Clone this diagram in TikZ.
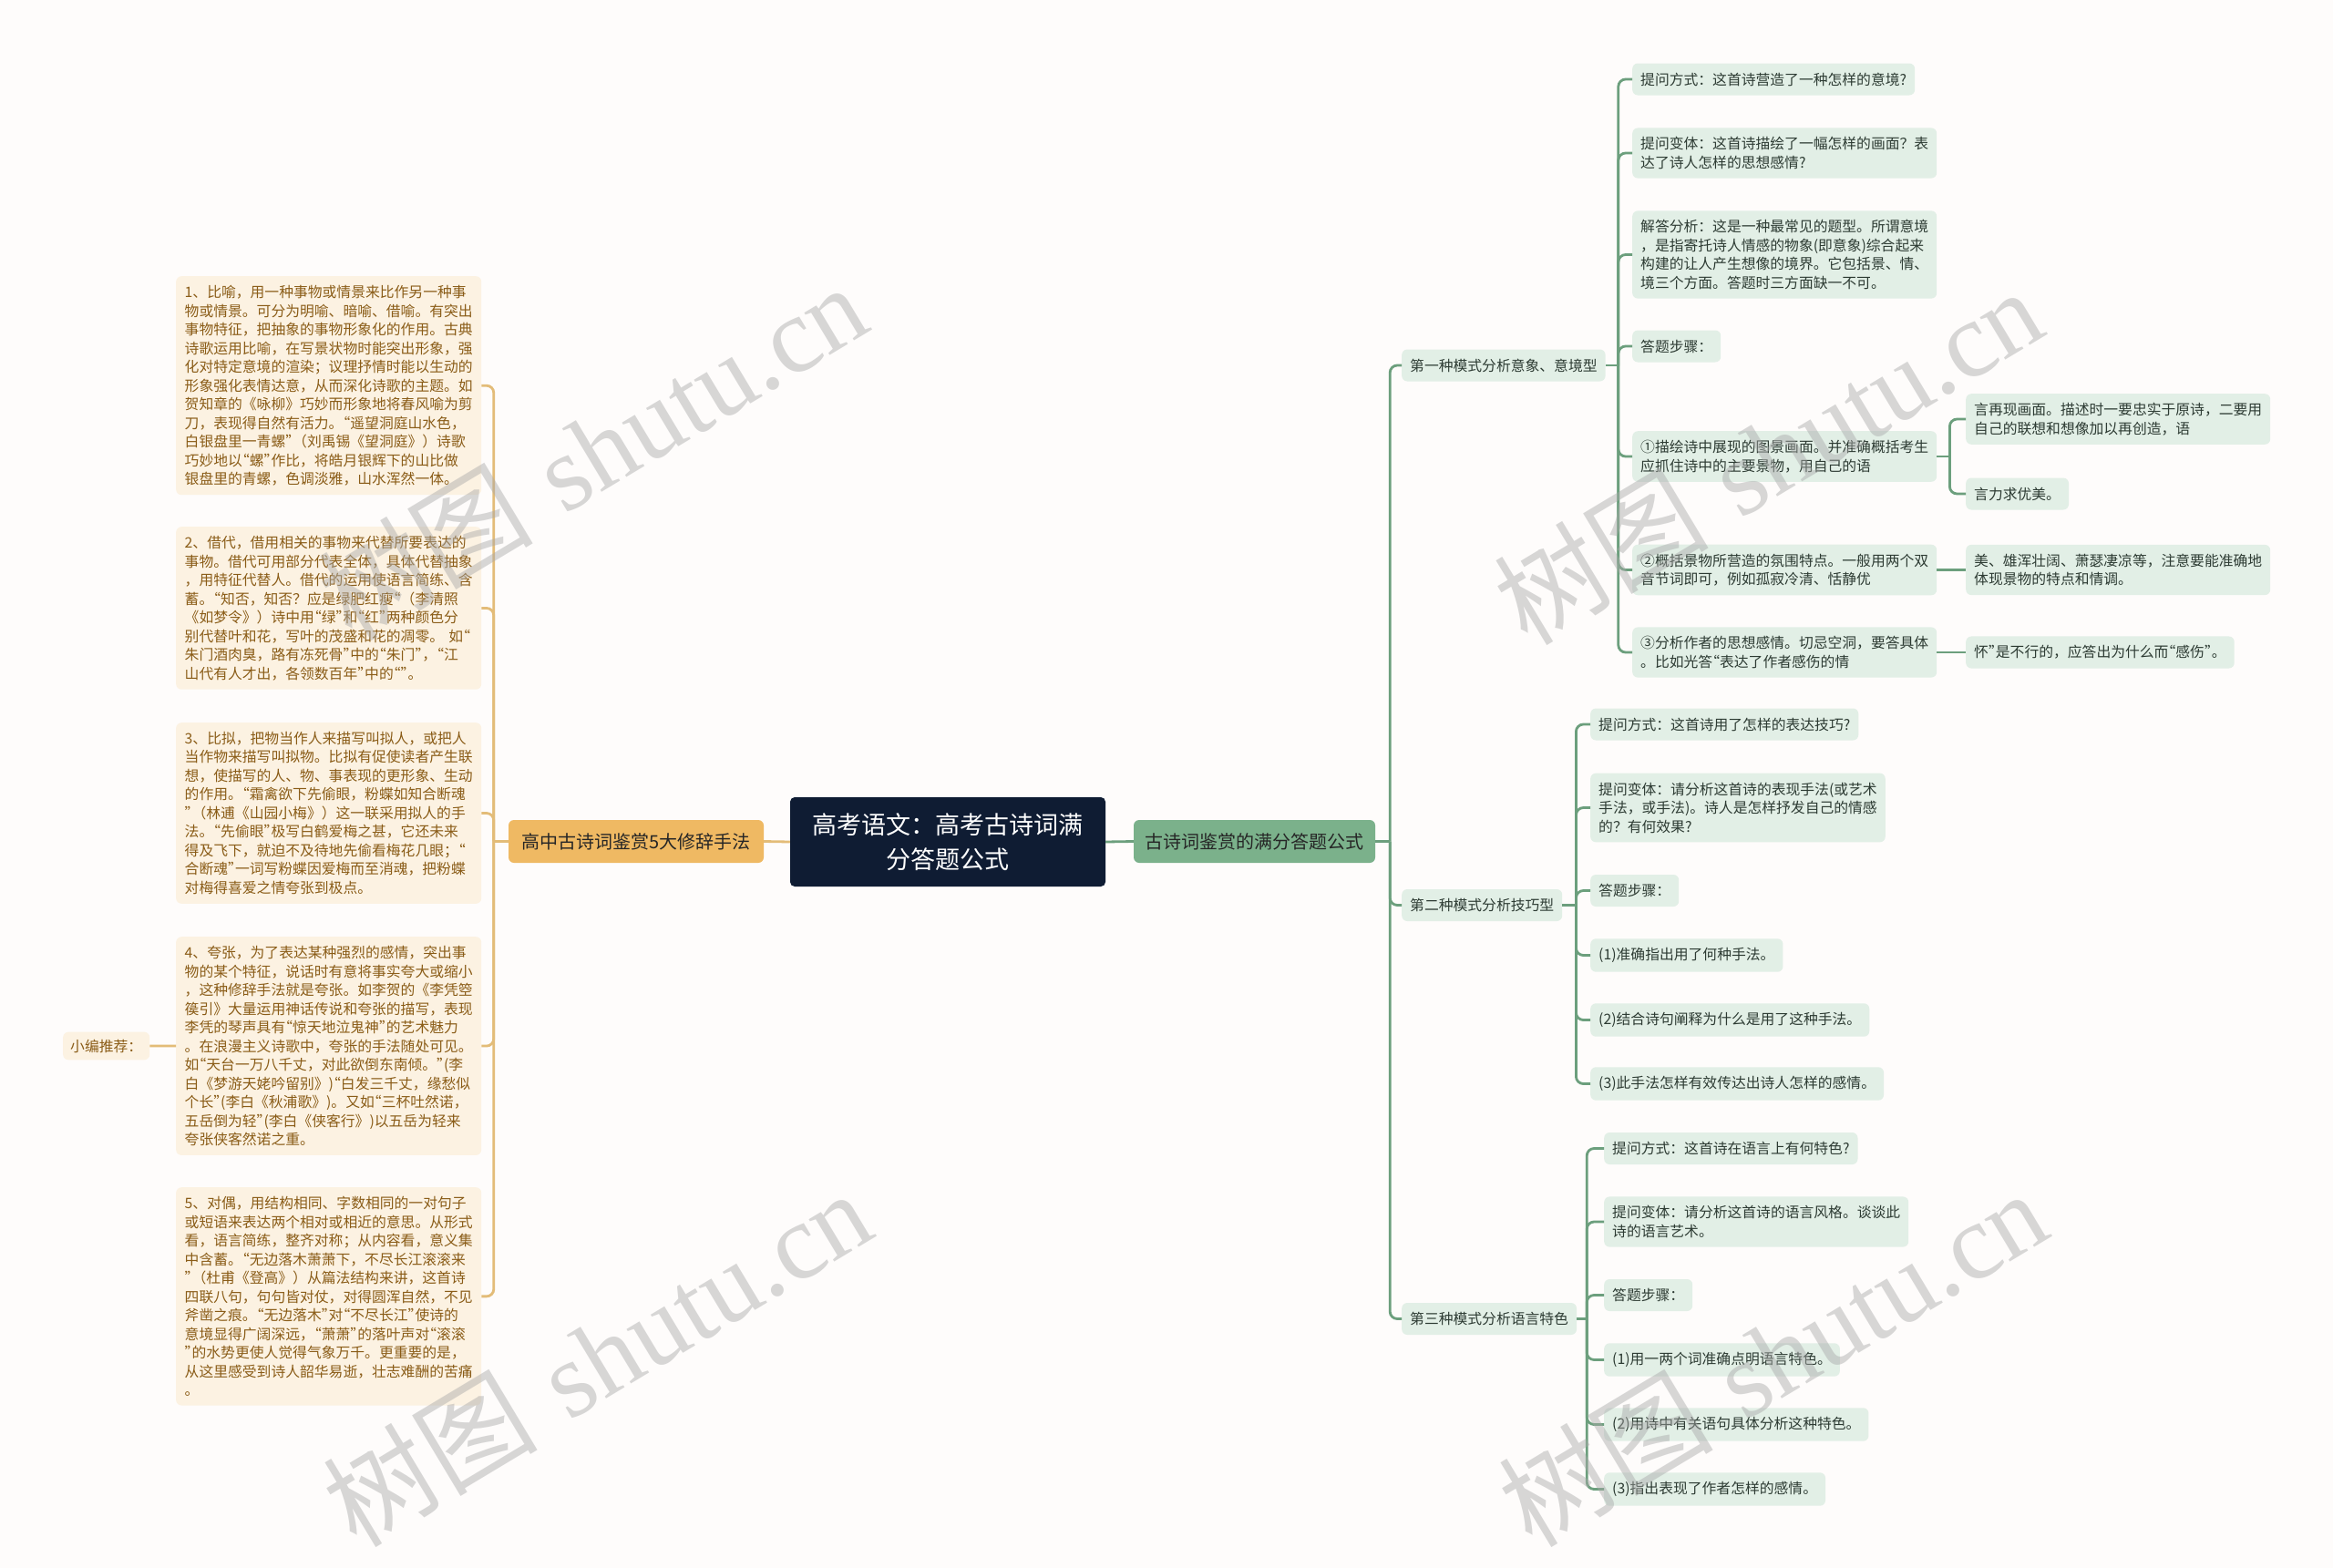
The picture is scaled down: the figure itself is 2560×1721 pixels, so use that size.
\documentclass[tikz,border=0pt]{standalone}
\usepackage{fontspec}
\newfontfamily\cjk{Noto Sans CJK SC}
\newfontfamily\wmfont{Liberation Serif}
%half-width curly quotes
\catcode`“=\active
\def“{\makebox[.5em][r]{\char"201C}}
\catcode`”=\active
\def”{\makebox[.5em][l]{\char"201D}}
\definecolor{bgcol}{HTML}{FEFCFB}
\definecolor{navy}{HTML}{0F1C33}
\definecolor{ofill}{HTML}{EFB963}
\definecolor{oline}{HTML}{E3BC78}
\definecolor{leaffill}{HTML}{FCF2E2}
\definecolor{leaftext}{HTML}{8A5C17}
\definecolor{gfill}{HTML}{7BB18B}
\definecolor{gline}{HTML}{6C9F7D}
\definecolor{gleaf}{HTML}{E2EFE6}
\definecolor{gtext}{HTML}{2D3B33}
\definecolor{wmgray}{HTML}{A8A8A8}
\tikzset{
  mid/.style={fill=navy,text=white,rounded corners=5pt,align=center,
    minimum width=346pt,minimum height=98pt,
    font=\fontsize{27}{37.5}\selectfont\cjk},
  obranch/.style={fill=ofill,text=black!85,rounded corners=6pt,
    minimum width=280pt,minimum height=47pt,font=\fontsize{20}{24}\selectfont\cjk},
  gbranch/.style={fill=gfill,text=black!85,rounded corners=6pt,
    minimum width=265pt,minimum height=47pt,font=\fontsize{20}{24}\selectfont\cjk},
  oleaf/.style={fill=leaffill,text=leaftext,rounded corners=6pt,align=left,
    text width=316pt,inner xsep=9.5pt,inner ysep=10pt,
    font=\fontsize{15.8}{20.5}\selectfont\cjk},
  gleaf/.style={fill=gleaf,text=gtext,rounded corners=6pt,align=left,
    inner xsep=9pt,inner ysep=10pt,minimum height=35pt,
    font=\fontsize{15.8}{20.5}\selectfont\cjk},
  olink/.style={draw=oline,line width=2.8pt,rounded corners=8pt},
  glink/.style={draw=gline,line width=2.8pt,rounded corners=8pt},
  wmark/.style={text=wmgray,opacity=0.45,rotate=31,font=\fontsize{118}{120}\selectfont}
}
\begin{document}
\begin{tikzpicture}[x=1pt,y=-1pt]
  \fill[bgcol] (0,0) rectangle (2560,1721);
  \useasboundingbox (0,0) rectangle (2560,1721);

  %centre
  \node[mid] (ctr) at (1040,924) {高考语文：高考古诗词满\\分答题公式};
  \node[obranch] (om) at (698,923.5) {高中古诗词鉴赏5大修辞手法};
  \node[gbranch] (gm) at (1376.5,923.5) {古诗词鉴赏的满分答题公式};
  \draw[olink] (ctr.west) -- (om.east);
  \draw[glink] (ctr.east) -- (gm.west);

  %left: five figures of speech
  \node[oleaf,anchor=north west] (b1) at (193,303) {1、比喻，用一种事物或情景来比作另一种事\\物或情景。可分为明喻、暗喻、借喻。有突出\\事物特征，把抽象的事物形象化的作用。古典\\诗歌运用比喻，在写景状物时能突出形象，强\\化对特定意境的渲染；议理抒情时能以生动的\\形象强化表情达意，从而深化诗歌的主题。如\\贺知章的《咏柳》巧妙而形象地将春风喻为剪\\刀，表现得自然有活力。“遥望洞庭山水色，\\白银盘里一青螺”（刘禹锡《望洞庭》）诗歌\\巧妙地以“螺”作比，将皓月银辉下的山比做\\银盘里的青螺，色调淡雅，山水浑然一体。};
  \node[oleaf,anchor=north west] (b2) at (193,578) {2、借代，借用相关的事物来代替所要表达的\\事物。借代可用部分代表全体，具体代替抽象\\，用特征代替人。借代的运用使语言简练、含\\蓄。“知否，知否？应是绿肥红瘦“（李清照\\《如梦令》）诗中用“绿”和“红”两种颜色分\\别代替叶和花，写叶的茂盛和花的凋零。~如“\\朱门酒肉臭，路有冻死骨”中的“朱门”，“江\\山代有人才出，各领数百年”中的“”。};
  \node[oleaf,anchor=north west] (b3) at (193,793) {3、比拟，把物当作人来描写叫拟人，或把人\\当作物来描写叫拟物。比拟有促使读者产生联\\想，使描写的人、物、事表现的更形象、生动\\的作用。“霜禽欲下先偷眼，粉蝶如知合断魂\\”（林逋《山园小梅》）这一联采用拟人的手\\法。“先偷眼”极写白鹤爱梅之甚，它还未来\\得及飞下，就迫不及待地先偷看梅花几眼；“\\合断魂”一词写粉蝶因爱梅而至消魂，把粉蝶\\对梅得喜爱之情夸张到极点。};
  \node[oleaf,anchor=north west] (b4) at (193,1028) {4、夸张，为了表达某种强烈的感情，突出事\\物的某个特征，说话时有意将事实夸大或缩小\\，这种修辞手法就是夸张。如李贺的《李凭箜\\篌引》大量运用神话传说和夸张的描写，表现\\李凭的琴声具有“惊天地泣鬼神”的艺术魅力\\。在浪漫主义诗歌中，夸张的手法随处可见。\\如“天台一万八千丈，对此欲倒东南倾。”(李\\白《梦游天姥吟留别》)“白发三千丈，缘愁似\\个长”(李白《秋浦歌》)。又如“三杯吐然诺，\\五岳倒为轻”(李白《侠客行》)以五岳为轻来\\夸张侠客然诺之重。};
  \node[oleaf,anchor=north west] (b5) at (193,1303) {5、对偶，用结构相同、字数相同的一对句子\\或短语来表达两个相对或相近的意思。从形式\\看，语言简练，整齐对称；从内容看，意义集\\中含蓄。“无边落木萧萧下，不尽长江滚滚来\\”（杜甫《登高》）从篇法结构来讲，这首诗\\四联八句，句句皆对仗，对得圆浑自然，不见\\斧凿之痕。“无边落木”对“不尽长江”使诗的\\意境显得广阔深远，“萧萧”的落叶声对“滚滚\\”的水势更使人觉得气象万千。更重要的是，\\从这里感受到诗人韶华易逝，壮志难酬的苦痛\\。};
  \node[oleaf,text width=,anchor=west,inner xsep=8pt,inner ysep=8pt] (tip) at (69,1148) {小编推荐：};
  \draw[olink] (om.west) -- ++(-16,0) coordinate (omj);
  \foreach \b in {b1,b2,b3,b4,b5}
    \draw[olink] (omj) |- (\b.east);
  \draw[olink] (tip.east) -- (b4.west);

  %right: three answer patterns
  \node[gleaf,anchor=west] (g1) at (1538,401) {第一种模式分析意象、意境型};
  \node[gleaf,anchor=west] (g2) at (1538,993.5) {第二种模式分析技巧型};
  \node[gleaf,anchor=west] (g3) at (1538,1447.5) {第三种模式分析语言特色};
  \draw[glink] (gm.east) -- ++(16,0) coordinate (gmj);
  \foreach \g in {g1,g2,g3}
    \draw[glink] (gmj) |- (\g.west);

  %pattern 1
  \node[gleaf,anchor=west] (q1) at (1791,87) {提问方式：这首诗营造了一种怎样的意境?};
  \node[gleaf,anchor=west] (v1) at (1791,168) {提问变体：这首诗描绘了一幅怎样的画面？表\\达了诗人怎样的思想感情?};
  \node[gleaf,anchor=west] (a1) at (1791,279.5) {解答分析：这是一种最常见的题型。所谓意境\\，是指寄托诗人情感的物象(即意象)综合起来\\构建的让人产生想像的境界。它包括景、情、\\境三个方面。答题时三方面缺一不可。};
  \node[gleaf,anchor=west] (s1) at (1791,380) {答题步骤：};
  \node[gleaf,anchor=west] (p1) at (1791,501) {①描绘诗中展现的图景画面。并准确概括考生\\应抓住诗中的主要景物，用自己的语};
  \node[gleaf,anchor=west] (p2) at (1791,625.5) {②概括景物所营造的氛围特点。一般用两个双\\音节词即可，例如孤寂冷清、恬静优};
  \node[gleaf,anchor=west] (p3) at (1791,716) {③分析作者的思想感情。切忌空洞，要答具体\\。比如光答“表达了作者感伤的情};
  \node[gleaf,anchor=west] (p1x) at (2157,460) {言再现画面。描述时一要忠实于原诗，二要用\\自己的联想和想像加以再创造，语};
  \node[gleaf,anchor=west] (p1y) at (2157,542) {言力求优美。};
  \node[gleaf,anchor=west] (p2x) at (2157,625.5) {美、雄浑壮阔、萧瑟凄凉等，注意要能准确地\\体现景物的特点和情调。};
  \node[gleaf,anchor=west] (p3x) at (2157,716) {怀”是不行的，应答出为什么而“感伤”。};
  \draw[glink] (g1.east) -- ++(14,0) coordinate (g1j);
  \foreach \c in {q1,v1,a1,s1,p1,p2,p3}
    \draw[glink] (g1j) |- (\c.west);
  \draw[glink] (p1.east) -- ++(14,0) coordinate (p1j);
  \draw[glink] (p1j) |- (p1x.west);
  \draw[glink] (p1j) |- (p1y.west);
  \draw[glink] (p2.east) -- (p2x.west);
  \draw[glink] (p3.east) -- (p3x.west);

  %pattern 2
  \node[gleaf,anchor=west] (q2) at (1745,795) {提问方式：这首诗用了怎样的表达技巧?};
  \node[gleaf,anchor=west] (v2) at (1745,886.5) {提问变体：请分析这首诗的表现手法(或艺术\\手法，或手法)。诗人是怎样抒发自己的情感\\的？有何效果?};
  \node[gleaf,anchor=west] (s2) at (1745,977.5) {答题步骤：};
  \node[gleaf,anchor=west] (r21) at (1745,1048.5) {(1)准确指出用了何种手法。};
  \node[gleaf,anchor=west] (r22) at (1745,1119.5) {(2)结合诗句阐释为什么是用了这种手法。};
  \node[gleaf,anchor=west] (r23) at (1745,1189.5) {(3)此手法怎样有效传达出诗人怎样的感情。};
  \draw[glink] (g2.east) -- ++(15,0) coordinate (g2j);
  \foreach \c in {q2,v2,s2,r21,r22,r23}
    \draw[glink] (g2j) |- (\c.west);

  %pattern 3
  \node[gleaf,anchor=west] (q3) at (1760,1260.5) {提问方式：这首诗在语言上有何特色?};
  \node[gleaf,anchor=west] (v3) at (1760,1341) {提问变体：请分析这首诗的语言风格。谈谈此\\诗的语言艺术。};
  \node[gleaf,anchor=west] (s3) at (1760,1421.5) {答题步骤：};
  \node[gleaf,anchor=west] (r31) at (1760,1492.5) {(1)用一两个词准确点明语言特色。};
  \node[gleaf,anchor=west] (r32) at (1760,1563.5) {(2)用诗中有关语句具体分析这种特色。};
  \node[gleaf,anchor=west] (r33) at (1760,1634.5) {(3)指出表现了作者怎样的感情。};
  \draw[glink] (g3.east) -- ++(11,0) coordinate (g3j);
  \foreach \c in {q3,v3,s3,r31,r32,r33}
    \draw[glink] (g3j) |- (\c.west);

  %watermarks
  \node[wmark] (wm1) at (650,495) {{\cjk 树图} {\wmfont shutu.cn}};
  \node[wmark] (wm2) at (1940,500) {{\cjk 树图} {\wmfont shutu.cn}};
  \node[wmark] (wm3) at (655,1490) {{\cjk 树图} {\wmfont shutu.cn}};
  \node[wmark] (wm4) at (1945,1490) {{\cjk 树图} {\wmfont shutu.cn}};
\end{tikzpicture}
\end{document}
